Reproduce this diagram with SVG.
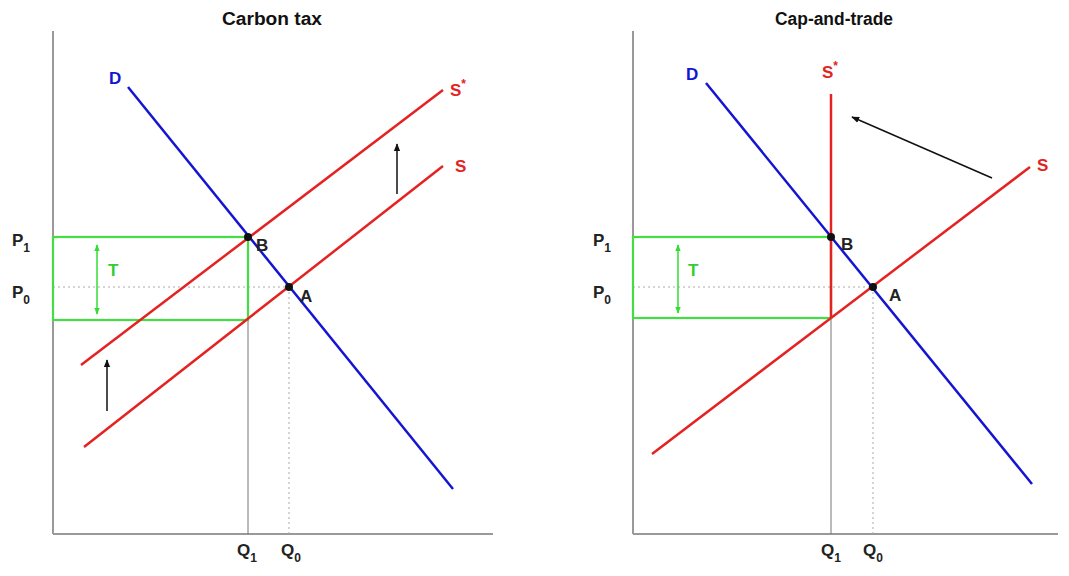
<svg xmlns="http://www.w3.org/2000/svg" width="1069" height="576" viewBox="0 0 1069 576">
<defs>
<marker id="ah" viewBox="0 0 10 10" refX="9" refY="5" markerWidth="8" markerHeight="8" markerUnits="userSpaceOnUse" orient="auto"><path d="M0,1 L10,5 L0,9 Z" fill="#111"/></marker>
<marker id="gh" viewBox="0 0 10 10" refX="9" refY="5" markerWidth="7" markerHeight="7" markerUnits="userSpaceOnUse" orient="auto-start-reverse"><path d="M0,1 L10,5 L0,9 Z" fill="#33dd33"/></marker>
<style>
.ax{stroke:#999;stroke-width:2;fill:none}
.dot{stroke:#aaa;stroke-width:1;stroke-dasharray:2,3;fill:none}
.q{stroke:#777;stroke-width:1;fill:none}
.d{stroke:#1414d2;stroke-width:2.5;fill:none}
.s{stroke:#e52222;stroke-width:2.5;fill:none}
.g{stroke:#44dd44;stroke-width:2.2;fill:none}
.ga{stroke:#33dd33;stroke-width:1.5;fill:none}
.ar{stroke:#111;stroke-width:1.5;fill:none}
text{font-family:"Liberation Sans",Arial,sans-serif;font-weight:bold}
.t{font-size:18px;fill:#111}
.l{font-size:17px;fill:#222}
.sub{font-size:12px}
.lb{fill:#1414d2;font-size:17px}
.lr{fill:#e52222;font-size:17px}
.lg{fill:#33cc33;font-size:17px}
.pt{fill:#111}
</style>
</defs>
<rect width="1069" height="576" fill="#fff"/>
<g id="left-panel">
<text class="t" x="272" y="25" text-anchor="middle" textLength="100" lengthAdjust="spacingAndGlyphs">Carbon tax</text>
<g id="left-axes">
<line class="ax" x1="53" y1="31" x2="53" y2="534"/>
<line class="ax" x1="53" y1="534" x2="493" y2="534"/>
</g>
<g id="left-guides">
<line class="dot" x1="53" y1="287" x2="289" y2="287"/>
<line class="dot" x1="289" y1="287" x2="289" y2="534"/>
<line class="q" x1="248" y1="237" x2="248" y2="534"/>
</g>
<g id="left-T-box">
<rect class="g" x="53" y="237" width="195" height="83"/>
<line class="ga" x1="97" y1="245" x2="97" y2="314" marker-start="url(#gh)" marker-end="url(#gh)"/>
<text class="lg" x="108" y="276">T</text>
</g>
<g id="left-D"><line class="d" x1="128" y1="87" x2="453" y2="489"/><text class="lb" x="109" y="84">D</text></g>
<g id="left-S"><line class="s" x1="84" y1="447" x2="443" y2="166"/><text class="lr" x="455" y="172">S</text></g>
<g id="left-Sstar"><line class="s" x1="81" y1="365" x2="443" y2="90"/><text class="lr" x="450" y="96">S<tspan class="sub" dy="-8">*</tspan></text></g>
<g id="left-points">
<circle class="pt" cx="248" cy="237" r="4"/><text class="l" x="256" y="251">B</text>
<circle class="pt" cx="289" cy="287" r="4"/><text class="l" x="300" y="302">A</text>
</g>
<g id="left-labels">
<text class="l" x="12" y="246">P<tspan class="sub" dy="6">1</tspan></text>
<text class="l" x="12" y="298">P<tspan class="sub" dy="6">0</tspan></text>
<text class="l" x="237" y="556">Q<tspan class="sub" dy="6">1</tspan></text>
<text class="l" x="281" y="556">Q<tspan class="sub" dy="6">0</tspan></text>
</g>
</g>
<g id="right-panel">
<text class="t" x="834" y="25" text-anchor="middle" textLength="118" lengthAdjust="spacingAndGlyphs">Cap-and-trade</text>
<g id="right-axes">
<line class="ax" x1="633" y1="31" x2="633" y2="534"/>
<line class="ax" x1="633" y1="534" x2="1058" y2="534"/>
</g>
<g id="right-guides">
<line class="dot" x1="633" y1="287" x2="873" y2="287"/>
<line class="dot" x1="873" y1="287" x2="873" y2="534"/>
<line class="q" x1="831" y1="237" x2="831" y2="534"/>
</g>
<g id="right-T-box">
<rect class="g" x="633" y="237" width="198" height="81"/>
<line class="ga" x1="678" y1="245" x2="678" y2="313" marker-start="url(#gh)" marker-end="url(#gh)"/>
<text class="lg" x="688" y="276">T</text>
</g>
<g id="right-D"><line class="d" x1="706" y1="83" x2="1032" y2="484"/><text class="lb" x="686" y="80">D</text></g>
<g id="right-S"><line class="s" x1="652" y1="454" x2="831" y2="318"/><line class="s" x1="831" y1="318" x2="1030" y2="167"/><text class="lr" x="1037" y="171">S</text></g>
<g id="right-Sstar"><line class="s" x1="831" y1="94" x2="831" y2="318"/><text class="lr" x="822" y="78">S<tspan class="sub" dy="-8">*</tspan></text></g>
<g id="right-points">
<circle class="pt" cx="831" cy="237" r="4"/><text class="l" x="841" y="250">B</text>
<circle class="pt" cx="873" cy="287" r="4"/><text class="l" x="889" y="301">A</text>
</g>
<g id="right-labels">
<text class="l" x="593" y="246">P<tspan class="sub" dy="6">1</tspan></text>
<text class="l" x="593" y="298">P<tspan class="sub" dy="6">0</tspan></text>
<text class="l" x="821" y="556">Q<tspan class="sub" dy="6">1</tspan></text>
<text class="l" x="863" y="556">Q<tspan class="sub" dy="6">0</tspan></text>
</g>
</g>
<g id="connectors">
<line class="ar" x1="397" y1="194" x2="397" y2="144" marker-end="url(#ah)"/>
<line class="ar" x1="107" y1="411" x2="107" y2="360" marker-end="url(#ah)"/>
<line class="ar" x1="992" y1="178" x2="852" y2="117" marker-end="url(#ah)"/>
</g>
</svg>
